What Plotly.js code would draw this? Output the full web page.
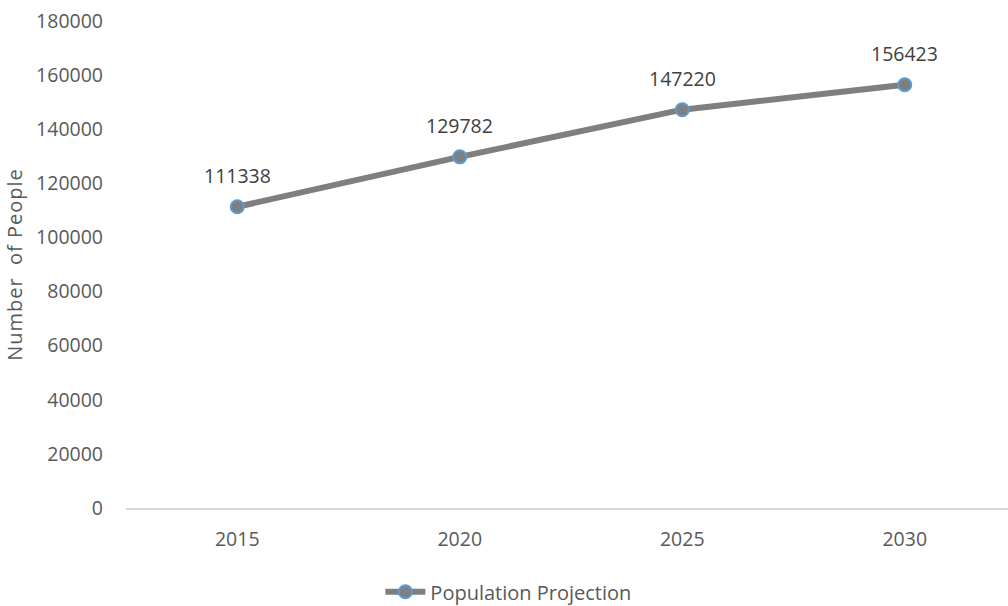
<!DOCTYPE html>
<html>
<head>
<meta charset="utf-8">
<script src="https://cdn.plot.ly/plotly-3.0.1.min.js"></script>
<style>
  html, body { margin: 0; padding: 0; background: #ffffff; }
  #chart { width: 1008px; height: 606px; }
  #chart .ytitle { letter-spacing: 1px; }
</style>
</head>
<body>
<div id="chart"></div>
<script>
// Projected population by year
const years = ['2015', '2020', '2025', '2030'];
const population = [111338, 129782, 147220, 156423];
const yTicks = [0, 20000, 40000, 60000, 80000, 100000, 120000, 140000, 160000, 180000];

const FONT = '"Open Sans", "Noto Sans", sans-serif';
const GREY_TEXT = '#595959';

const trace = {
  type: 'scatter',
  mode: 'lines+markers',
  name: 'Population Projection',
  x: years,
  y: population,
  line: { color: '#7f7f7f', width: 6 },
  marker: { size: 13, color: '#7f7f7f', line: { color: '#5b9bd5', width: 2 } },
  hoverinfo: 'x+y'
};

// Value labels above each point
const labels = years.map((yr, i) => ({
  xref: 'x',
  yref: 'y',
  x: i,
  y: population[i],
  text: String(population[i]),
  showarrow: false,
  yshift: 31,
  font: { family: FONT, size: 19.5, color: '#404040' }
}));

const layout = {
  width: 1008,
  height: 606,
  margin: { l: 126, r: 0, t: 21, b: 98, autoexpand: false },
  paper_bgcolor: '#ffffff',
  plot_bgcolor: '#ffffff',
  font: { family: FONT, size: 19.5, color: GREY_TEXT },
  showlegend: true,
  legend: {
    orientation: 'h',
    x: 0.4335,
    xanchor: 'center',
    y: -0.172,
    yanchor: 'middle',
    font: { family: FONT, size: 20, color: GREY_TEXT },
    itemwidth: 40
  },
  xaxis: {
    type: 'category',
    range: [-0.5, 3.464],
    showgrid: false,
    zeroline: false,
    showline: true,
    linecolor: '#d9d9d9',
    linewidth: 2,
    ticks: '',
    ticklabelstandoff: 13,
    tickfont: { family: FONT, size: 19.5, color: GREY_TEXT }
  },
  yaxis: {
    range: [0, 180000],
    tickvals: yTicks,
    ticktext: yTicks.map(String),
    showgrid: false,
    zeroline: false,
    showline: false,
    ticks: '',
    ticklabelstandoff: 22,
    tickfont: { family: FONT, size: 19.5, color: GREY_TEXT },
    title: { text: 'Number\u00a0 of People', standoff: 8, font: { family: FONT, size: 20, color: GREY_TEXT } }
  },
  annotations: labels
};

Plotly.newPlot('chart', [trace], layout, { displayModeBar: false, staticPlot: true });
</script>
</body>
</html>
